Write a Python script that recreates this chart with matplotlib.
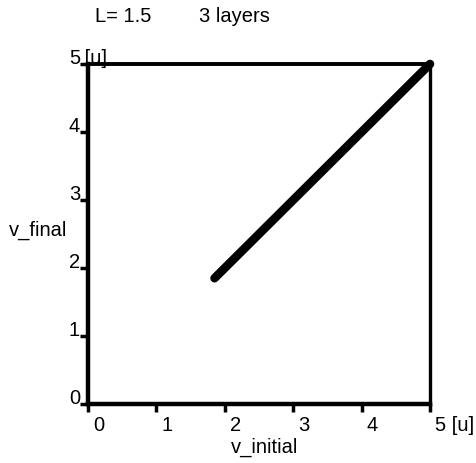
import matplotlib
matplotlib.use("Agg")
import matplotlib.pyplot as plt
from matplotlib.transforms import ScaledTranslation

plt.rcParams['font.family'] = ['Liberation Sans', 'DejaVu Sans']

v_initial = [1.85, 5.0]
v_final = [1.85, 5.0]
tick_values = [0, 1, 2, 3, 4, 5]
tick_labels = ['0', '1', '2', '3', '4', '5']
unit = '[u]'
title_left = 'L= 1.5'
title_right = '3 layers'

fig = plt.figure(figsize=(4.77, 4.64), dpi=100)
ax = fig.add_axes([88/477, 1-405/464, (430-88)/477, (405-65)/464])
ax.plot(v_initial, v_final, color='black', lw=6.2, solid_capstyle='round', clip_on=False)
ax.set_xlim(0, 5)
ax.set_ylim(0, 5)
for side, lw in [('left', 3.2), ('bottom', 3.2), ('top', 2.8), ('right', 2.4)]:
    ax.spines[side].set_linewidth(lw)
ax.set_xticks(tick_values)
ax.set_yticks(tick_values)
ax.set_xticklabels([])
ax.set_yticklabels([])
ax.tick_params(axis='both', direction='out', length=6, width=2.5, color='black')

fs = 14.5
dpi = fig.dpi
for v, lab in zip(tick_values, tick_labels):
    # x labels: right of tick, below axis
    off = ScaledTranslation(5/dpi, -11/dpi, fig.dpi_scale_trans)
    t = ax.get_xaxis_transform() + off
    s = lab + (' ' + unit if v == tick_values[-1] else '')
    ax.text(v, 0, s, transform=t, ha='left', va='top', fontsize=fs)
    # y labels: left of tick, baseline on tick
    off = ScaledTranslation(-8/dpi, 1/dpi, fig.dpi_scale_trans)
    t = ax.get_yaxis_transform() + off
    ax.text(0, v, lab, transform=t, ha='right', va='baseline', fontsize=fs)
    if v == tick_values[-1]:
        off2 = ScaledTranslation(-9/dpi, 1/dpi, fig.dpi_scale_trans)
        ax.text(0, v, ' ' + unit, transform=ax.get_yaxis_transform() + off2,
                ha='left', va='baseline', fontsize=fs)

fig.text(265/477, 1-447/464, 'v_initial', ha='center', va='center', fontsize=fs)
fig.text(9/477, 1-230/464, 'v_final', ha='left', va='center', fontsize=fs)
fig.text(95/477, 1-17/464, title_left, ha='left', va='center', fontsize=fs)
fig.text(199/477, 1-17/464, title_right, ha='left', va='center', fontsize=fs)

fig.savefig('out.png', dpi=100)
